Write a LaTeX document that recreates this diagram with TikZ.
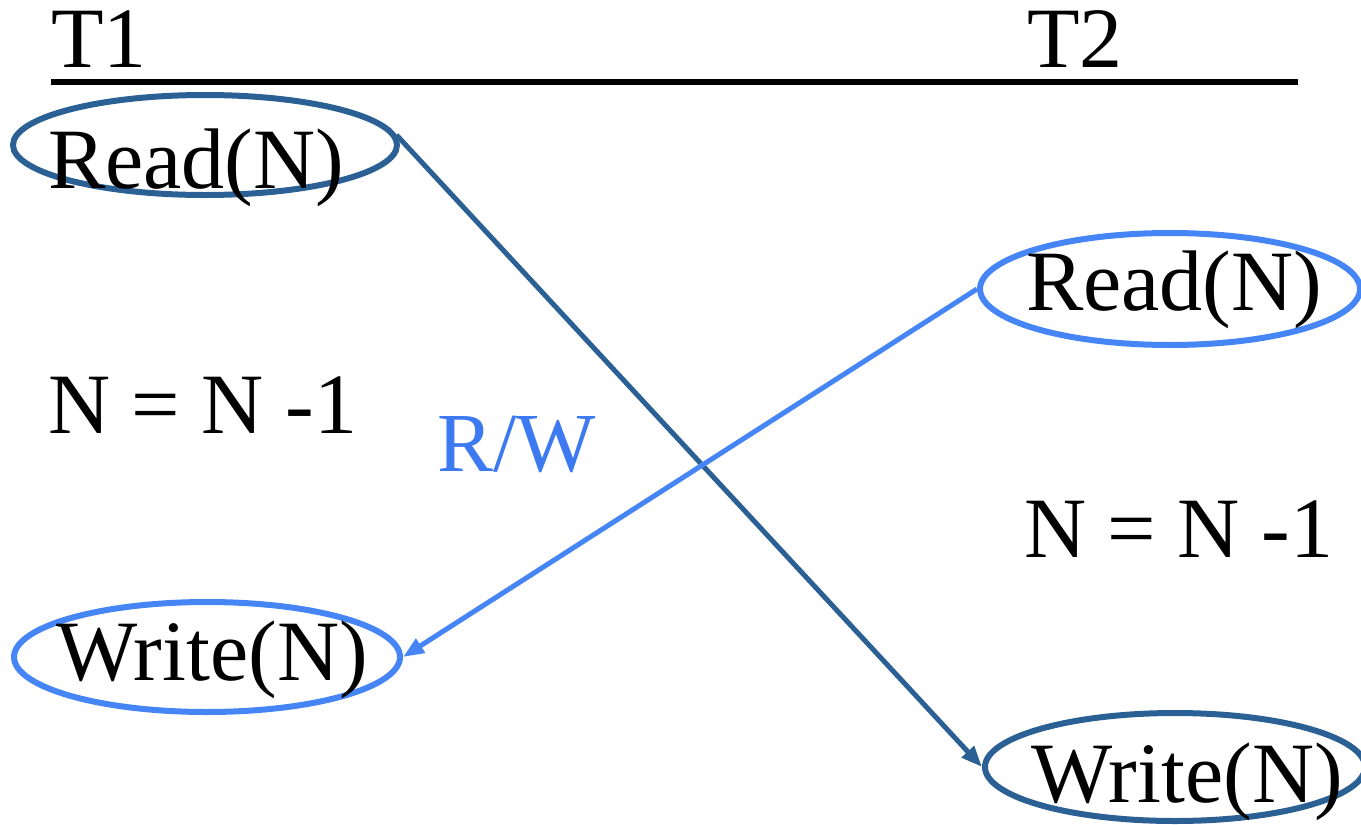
\documentclass[tikz,border=0pt]{standalone}
\usepackage{fontspec}
\setmainfont{Liberation Serif}
\newfontfamily\tnr{Liberation Serif}
\usetikzlibrary{shapes.geometric,arrows.meta}
\definecolor{darkblue}{HTML}{2B6094}
\definecolor{lightblue}{HTML}{4685F5}
\definecolor{rwblue}{HTML}{3D7AF2}
\begin{document}
\begin{tikzpicture}[x=1pt,y=-1pt,
  lbl/.style={anchor=base west,inner sep=0pt,font=\tnr\fontsize{86}{100}\selectfont},
  oval/.style={ellipse,draw,line width=6pt,inner sep=0pt},
  conn/.style={line width=5pt,-{Triangle[length=21pt,width=16pt]}}]
\useasboundingbox (0,0) rectangle (1361,825);
% header
\node[lbl] (t1) at (51,67) {T1};
\node[lbl] (t2) at (1027,67) {T2};
\coordinate (hl) at (51,81.5);
\coordinate (hr) at (1298,81.5);
\draw[line width=6pt] (hl) -- (hr);
% ovals
\node[oval,darkblue,minimum width=384pt,minimum height=100pt] (e1) at (205,145) {};
\node[oval,lightblue,minimum width=380pt,minimum height=112pt] (e2) at (1170,289) {};
\node[oval,lightblue,minimum width=386pt,minimum height=110pt] (e3) at (207,657) {};
\node[oval,darkblue,minimum width=380pt,minimum height=108pt] (e4) at (1175,767) {};
% texts
\node[lbl] (r1) at (48,188) {Read(N)};
\node[lbl] (r2) at (1026,310) {Read(N)};
\node[lbl] (w1) at (56,680) {Write(N)};
\node[lbl] (w2) at (1031,802) {Write(N)};
\node[lbl] (n1) at (48,433) {N = N -1};
\node[lbl] (n2) at (1024,557) {N = N -1};
\node[lbl,text=rwblue,font=\tnr\fontsize{84}{100}\selectfont] (rw) at (437,471) {R/W};
% connectors
\draw[conn,darkblue] (e1.3) -- (e4.west);
\draw[conn,lightblue] (e2.west) -- (e3.east);
\end{tikzpicture}
\end{document}
